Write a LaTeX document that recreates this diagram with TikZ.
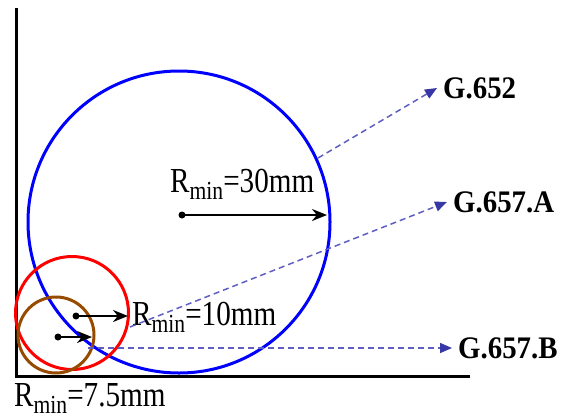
\documentclass[tikz,border=0pt]{standalone}
\usepackage{fontspec}
\setmainfont{Liberation Serif}
\usetikzlibrary{arrows.meta}
\definecolor{dashblue}{RGB}{95,95,195}
\definecolor{tipblue}{RGB}{55,55,165}
\definecolor{brownc}{RGB}{150,75,0}
\newcommand{\rmin}{R\raisebox{-6pt}{\fontsize{20}{20}\selectfont min}}
\newcommand{\rtext}[1]{\scalebox{1.08}[1.3]{#1}}
\newcommand{\gtext}[1]{\scalebox{1.03}[1.12]{#1}}
\begin{document}
\begin{tikzpicture}[x=1pt,y=-1pt,
  axis/.style={line width=3pt},
  ring/.style={circle, draw, line width=3pt, inner sep=0pt},
  radarrow/.style={line width=2.2pt, -{Stealth[length=15pt,width=12pt]}},
  dotc/.style={circle, fill=black, inner sep=0pt, minimum size=7pt},
  fiber/.style={dash pattern=on 6pt off 4pt, line width=1.5pt, draw=dashblue,
    -{Triangle[length=12pt,width=10pt,color=tipblue]}},
  glabel/.style={font=\fontsize{28}{30}\selectfont\bfseries, inner ysep=0pt, inner xsep=6pt, anchor=west},
  rlabel/.style={font=\fontsize{27}{30}\selectfont, inner sep=0pt, anchor=base west}]
\useasboundingbox (0,0) rectangle (561,418);
% axes
\coordinate (top) at (16,8);
\coordinate (origin) at (16,376);
\coordinate (right) at (470,376);
\draw[axis] (top) -- (origin) -- (right);
% circles
\node[ring, draw=blue, minimum size=302pt] (blue) at (179,222) {};
\node[ring, draw=red, minimum size=113pt] (red) at (72,313) {};
\node[ring, draw=brownc, minimum size=76pt] (brown) at (56,335) {};
% radius arrows
\node[dotc] (c30) at (182,215) {};
\coordinate (e30) at (327,215);
\draw[radarrow] (c30.center) -- (e30);
\node[dotc] (c10) at (76,316) {};
\coordinate (e10) at (128,316);
\draw[radarrow] (c10.center) -- (e10);
\node[dotc] (c75) at (58,337) {};
\coordinate (e75) at (92,337);
\draw[radarrow] (c75.center) -- (e75);
% radius labels
\node[rlabel] (l30) at (170,192) {\rtext{\rmin=30mm}};
\node[rlabel] (l10) at (132,325) {\rtext{\rmin=10mm}};
\node[rlabel] (l75) at (14,406) {\rtext{\rmin=7.5mm}};
% fiber labels
\node[glabel] (g652) at (437,88) {\gtext{G.652}};
\node[glabel] (g657a) at (447,202) {\gtext{G.657.A}};
\node[glabel] (g657b) at (452,348) {\gtext{G.657.B}};
% dashed connectors
\coordinate (s652) at (318,158);
\coordinate (s657a) at (130,327);
\coordinate (s657b) at (88,348);
\draw[fiber] (s652) -- (g652.west);
\draw[fiber] (s657a) -- (g657a.west);
\draw[fiber] (s657b) -- (g657b.west);
\end{tikzpicture}
\end{document}
